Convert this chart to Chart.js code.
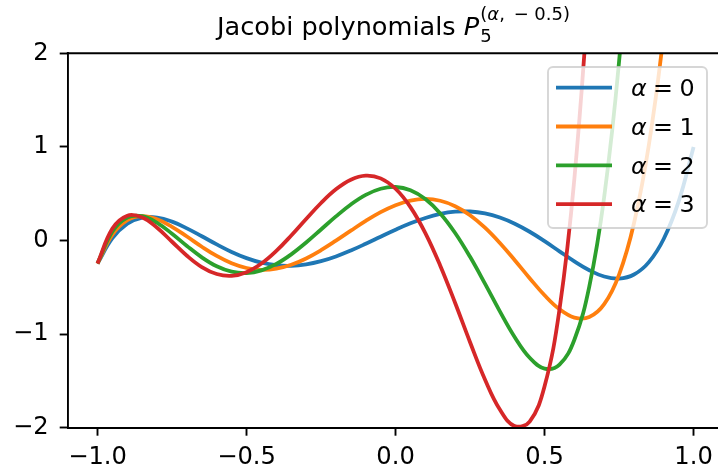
<!DOCTYPE html>
<html><head><meta charset="utf-8">
<script src="https://cdn.jsdelivr.net/npm/chart.js@4/dist/chart.umd.min.js"></script>
<style>html,body{margin:0;padding:0;background:#fff;overflow:hidden;width:718px;height:472px}canvas{display:block}</style>
</head><body>
<canvas id="c" width="760" height="472"></canvas>
<script>
// x positions (read along the horizontal axis)
const xValues = [-1.00,-0.95,-0.90,-0.85,-0.80,-0.75,-0.70,-0.65,-0.60,-0.55,-0.50,-0.45,-0.40,-0.35,-0.30,-0.25,-0.20,-0.15,-0.10,-0.05,
  0.00,0.05,0.10,0.15,0.20,0.25,0.30,0.35,0.40,0.45,0.50,0.55,0.60,0.65,0.70,0.75,0.80,0.85,0.90,0.95,1.00];
// P5^(alpha,-0.5) values
const alpha0 = [-0.2461,0.0243,0.1788,0.2446,0.2453,0.2014,0.1299,0.0450,-0.0419,-0.1219,-0.1883,-0.2366,-0.2642,-0.2702,-0.2552,-0.2209,-0.1702,-0.1068,-0.0349,0.0407,
  0.1151,0.1834,0.2410,0.2835,0.3074,0.3100,0.2895,0.2456,0.1794,0.0936,-0.0070,-0.1156,-0.2230,-0.3175,-0.3846,-0.4069,-0.3636,-0.2309,0.0190,0.4175,1.0000];
const alpha1 = [-0.2461,0.0621,0.2173,0.2608,0.2274,0.1466,0.0423,-0.0665,-0.1651,-0.2431,-0.2936,-0.3131,-0.3010,-0.2591,-0.1915,-0.1035,-0.0022,0.1047,0.2091,0.3027,
  0.3776,0.4266,0.4438,0.4247,0.3668,0.2701,0.1371,-0.0264,-0.2108,-0.4029,-0.5849,-0.7342,-0.8231,-0.8183,-0.6805,-0.3639,0.1840,1.0230,2.2203,3.8514,6.0000];
const alpha2 = [-0.2461,0.0965,0.2460,0.2606,0.1895,0.0726,-0.0587,-0.1798,-0.2755,-0.3331,-0.3479,-0.3192,-0.2503,-0.1480,-0.0216,0.1176,0.2573,0.3846,0.4870,0.5526,
  0.5717,0.5365,0.4426,0.2894,0.0806,-0.1744,-0.4608,-0.7567,-1.0329,-1.2523,-1.3687,-1.3265,-1.0599,-0.4916,0.4653,1.9134,3.9660,6.7509,10.41,15.10,21.00];
const alpha3 = [-0.2461,0.1281,0.2654,0.2464,0.1361,-0.0133,-0.1626,-0.2838,-0.3584,-0.3772,-0.3382,-0.2463,-0.1112,0.0532,0.2300,0.4008,0.5467,0.6495,0.6929,0.6637,
  0.5529,0.3570,0.0794,-0.2689,-0.6678,-1.0870,-1.4846,-1.8063,-1.9838,-1.9341,-1.5576,-0.7376,0.6613,2.7940,5.8367,9.99,15.47,22.52,31.43,42.48,56.00];
const seriesValues = [alpha0, alpha1, alpha2, alpha3];
const seriesLabels = ['0', '1', '2', '3'];
const seriesColors = ['#1f77b4', '#ff7f0e', '#2ca02c', '#d62728'];
const xTicks = [-1.0, -0.5, 0.0, 0.5, 1.0];
const xTickLabels = ['\u22121.0', '\u22120.5', '0.0', '0.5', '1.0'];
const yTicks = [-2, -1, 0, 1, 2];
const yTickLabels = ['\u22122', '\u22121', '0', '1', '2'];
const titleMain = 'Jacobi polynomials ';

const FAM = '"DejaVu Sans"';
const TICK_SIZE = 24.2;
const LEG_SIZE = 23.8;
const LINE_W = 3.8;

const overlay = {
  id: 'overlay',
  afterDatasetsDraw(chart) {
    const ctx = chart.ctx, a = chart.chartArea;
    // legend box
    const lx = 548, ly = 67, lw = 159, lh = 161;
    ctx.save();
    ctx.beginPath();
    ctx.roundRect(lx, ly, lw, lh, 5);
    ctx.fillStyle = 'rgba(255,255,255,0.8)';
    ctx.fill();
    ctx.lineWidth = 1.9;
    ctx.strokeStyle = 'rgba(204,204,204,0.8)';
    ctx.stroke();
    const fs = LEG_SIZE;
    chart.data.datasets.forEach((ds, i) => {
      const cy = ly + 20.7 + i * 38.8;
      ctx.beginPath();
      ctx.moveTo(lx + 8, cy); ctx.lineTo(lx + 64, cy);
      ctx.strokeStyle = ds.borderColor; ctx.lineWidth = LINE_W; ctx.lineCap = 'butt';
      ctx.stroke();
      ctx.fillStyle = '#000';
      ctx.textBaseline = 'alphabetic';
      const by = cy + 8.3;
      let x = lx + 83;
      ctx.font = 'italic ' + fs + 'px ' + FAM;
      ctx.fillText('\u03b1', x, by);
      x += ctx.measureText('\u03b1').width + 0.27 * fs;
      ctx.font = fs + 'px ' + FAM;
      ctx.fillText('=', x, by);
      x += ctx.measureText('=').width + 0.27 * fs;
      ctx.fillText(seriesLabels[i], x, by);
    });
    ctx.restore();
  },
  afterDraw(chart) {
    const ctx = chart.ctx, a = chart.chartArea;
    ctx.save();
    // top spine
    ctx.beginPath();
    ctx.moveTo(a.left - 0.95, a.top); ctx.lineTo(a.right, a.top);
    ctx.lineWidth = 1.9; ctx.strokeStyle = '#000'; ctx.stroke();
    // title with math text
    const big = 25.6, small = 18;
    const fMain = big + 'px ' + FAM, fIt = 'italic ' + big + 'px ' + FAM;
    const fS = small + 'px ' + FAM, fSI = 'italic ' + small + 'px ' + FAM;
    ctx.font = fMain; const wMain = ctx.measureText(titleMain).width;
    ctx.font = fIt; const wP = ctx.measureText('P').width;
    ctx.font = fS;
    const w1 = ctx.measureText('(').width, w3 = ctx.measureText(',').width;
    const wm = ctx.measureText('\u2212').width, w4 = ctx.measureText('0.5)').width;
    const w5 = ctx.measureText('5').width;
    ctx.font = fSI; const w2 = ctx.measureText('\u03b1').width;
    const g1 = 0.5 * small, g2 = 0.3 * small;
    const wSup = w1 + w2 + w3 + g1 + wm + g2 + w4;
    const total = wMain + wP + 1 + Math.max(wSup, w5);
    const cx = 393.5;
    let x = cx - total / 2;
    const by = 35;
    ctx.fillStyle = '#000'; ctx.textBaseline = 'alphabetic';
    ctx.font = fMain; ctx.fillText(titleMain, x, by); x += wMain;
    ctx.font = fIt; ctx.fillText('P', x, by); x += wP + 1;
    ctx.font = fS; ctx.fillText('5', x, by + 6.5);
    const sy = by - 15;
    let sx = x;
    ctx.fillText('(', sx, sy); sx += w1;
    ctx.font = fSI; ctx.fillText('\u03b1', sx, sy); sx += w2;
    ctx.font = fS; ctx.fillText(',', sx, sy); sx += w3 + g1;
    ctx.fillText('\u2212', sx, sy); sx += wm + g2;
    ctx.fillText('0.5)', sx, sy);
    ctx.restore();
  }
};

const datasets = seriesValues.map((vals, i) => ({
  label: '\u03b1 = ' + seriesLabels[i],
  data: xValues.map((x, j) => ({ x: x, y: vals[j] })),
  borderColor: seriesColors[i],
  backgroundColor: seriesColors[i],
  borderWidth: LINE_W,
  pointRadius: 0,
  fill: false,
  tension: 0.4,
  clip: 0,
  order: seriesValues.length - i
}));

new Chart(document.getElementById('c'), {
  type: 'line',
  data: { datasets: datasets },
  plugins: [overlay],
  options: {
    responsive: false,
    devicePixelRatio: 1,
    animation: false,
    events: [],
    layout: { padding: { top: 53.3, right: 760 - 723.4, left: 0, bottom: 0 } },
    plugins: { legend: { display: false }, title: { display: false }, tooltip: { enabled: false } },
    scales: {
      x: {
        type: 'linear', min: -1.1, max: 1.1,
        afterBuildTicks: s => { s.ticks = xTicks.map(v => ({ value: v })); },
        afterFit: s => { s.height = 472 - 427.7; },
        ticks: { callback: (v, i) => xTickLabels[i], font: { family: 'DejaVu Sans', size: TICK_SIZE }, color: '#000', padding: 7.5, maxRotation: 0, autoSkip: false },
        grid: { drawOnChartArea: false, drawTicks: true, tickLength: 8, tickWidth: 1.9, tickColor: '#000' },
        border: { display: true, color: '#000', width: 1.9, z: 1 }
      },
      y: {
        type: 'linear', min: -2, max: 2,
        afterBuildTicks: s => { s.ticks = yTicks.map(v => ({ value: v })); },
        afterFit: s => { s.width = 67.7; },
        ticks: { callback: (v, i) => yTickLabels[i], font: { family: 'DejaVu Sans', size: TICK_SIZE }, color: '#000', padding: 11, autoSkip: false },
        grid: { drawOnChartArea: false, drawTicks: true, tickLength: 8, tickWidth: 1.9, tickColor: '#000' },
        border: { display: true, color: '#000', width: 1.9, z: 1 }
      }
    }
  }
});
</script>
</body></html>
